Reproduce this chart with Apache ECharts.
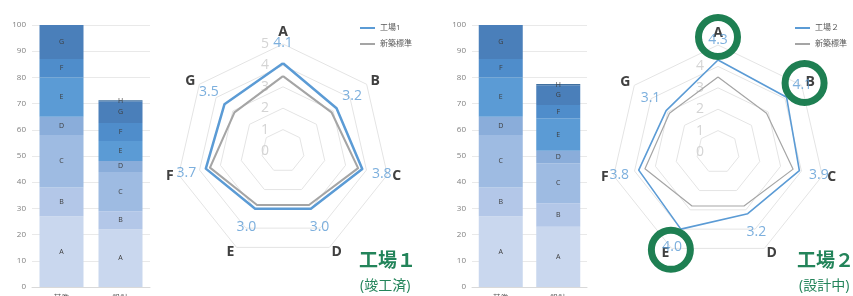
<!DOCTYPE html>
<html><head><meta charset="utf-8">
<script src="https://cdn.jsdelivr.net/npm/echarts@6/dist/echarts.min.js"></script>
<style>html,body{margin:0;padding:0;background:#fff}#c{width:853px;height:296px}</style>
</head><body><div id="c"></div>
<script>
// ---- data ----
const barCategories = ['基準', '設計'];
const segmentNames = ['A', 'B', 'C', 'D', 'E', 'F', 'G', 'H'];
const plant1BaseBar = [27, 11, 20, 7, 15, 7, 13, 0];
const plant1DesignBar = [22, 6.9, 15, 4.2, 7.6, 6.9, 8.3, 0.4];
const plant2BaseBar = [27, 11, 20, 7, 15, 7, 13, 0];
const plant2DesignBar = [23, 9, 15.2, 4.8, 12.4, 5.1, 7.5, 0.5];
const radarAxes = ['A', 'B', 'C', 'D', 'E', 'F', 'G'];
const plant1Scores = [4.1, 3.2, 3.8, 3.0, 3.0, 3.7, 3.5];
const plant2Scores = [4.3, 4.1, 3.9, 3.2, 4.0, 3.8, 3.1];
const standardScores = [3.5, 2.9, 3.6, 2.8, 2.8, 3.5, 2.9];
const plant2Highlights = ['A', 'B', 'E'];
const plant1Name = '工場1';
const plant2Name = '工場２';
const standardName = '新築標準';

// ---- styles ----
const FONT = "'Open Sans','Noto Sans CJK JP',sans-serif";
const segColors = ['#C9D7EE', '#B3C7E8', '#9EBBE2', '#8AADDA', '#5B9BD5', '#4F8DCB', '#4A7FBA', '#41709F'];
const BLUE = '#5B9BD5', GRAY = '#A5A5A5', GREEN = '#1E7F52', TGREEN = '#23845A';
const radarCenters = [[283, 151], [718, 152]];
const RADIUS = 107;

// radar draws indicators counter-clockwise; reorder so A..G go clockwise
const ord = radarAxes.map((_, i) => (radarAxes.length - i) % radarAxes.length);
const reorder = arr => ord.map(i => arr[i]);
const angleOf = i => i * 360 / radarAxes.length;

function makeRadar(ci) {
  return {
    center: radarCenters[ci], radius: RADIUS, startAngle: 90, splitNumber: 5, shape: 'polygon',
    indicator: ord.map((i, k) => {
      const o = { name: radarAxes[i], min: 0, max: 5 };
      if (k === 0) o.axisLabel = { show: true };
      return o;
    }),
    axisName: { color: '#404040', fontSize: 14, fontWeight: 'bold', fontFamily: FONT },
    nameGap: 5,
    splitLine: { lineStyle: { color: '#e4e4e4', width: 1 } },
    splitArea: { show: false },
    axisLine: { show: false },
    axisTick: { show: false },
    axisLabel: { show: false, color: '#d4d4d4', fontSize: 14, margin: 14, fontFamily: FONT }
  };
}

const series = [];
// bars
[[plant1BaseBar, plant1DesignBar], [plant2BaseBar, plant2DesignBar]].forEach((pair, ci) => {
  segmentNames.forEach((seg, k) => {
    series.push({
      type: 'bar', name: seg, stack: 'bars' + ci, xAxisIndex: ci, yAxisIndex: ci,
      barWidth: 44,
      data: [pair[0][k] || null, pair[1][k] || null],
      itemStyle: { color: segColors[k] },
      label: { show: true, position: 'inside', formatter: seg, fontSize: 7, color: '#3d3d3d', fontFamily: FONT },
      silent: true
    });
  });
});
// radars
[[plant1Name, plant1Scores, 2.5], [plant2Name, plant2Scores, 1.6]].forEach((p, ci) => {
  series.push({
    type: 'radar', radarIndex: ci, symbol: 'none',
    data: [
      { name: p[0], value: reorder(p[1]), lineStyle: { color: BLUE, width: p[2] }, itemStyle: { color: BLUE } },
      { name: standardName, value: reorder(standardScores), lineStyle: { color: GRAY, width: p[2] - 0.4 }, itemStyle: { color: GRAY } }
    ]
  });
  // value labels in overlaid polar coord
  series.push({
    type: 'scatter', coordinateSystem: 'polar', polarIndex: ci, symbolSize: 0, silent: true,
    data: p[1].map((v, i) => {
      const a = angleOf(i) * Math.PI / 180, d = 20;
      return { value: [v, angleOf(i)], label: { offset: [Math.sin(a) * d, -Math.cos(a) * d] } };
    }),
    label: { show: true, position: 'inside', formatter: q => q.value[0].toFixed(1), color: BLUE, fontSize: 14, fontFamily: FONT },
    z: 5
  });
});
// highlight circles on plant 2
series.push({
  type: 'scatter', coordinateSystem: 'polar', polarIndex: 1, symbol: 'circle', symbolSize: 39, silent: true,
  data: plant2Highlights.map(n => {
    const i = radarAxes.indexOf(n), a = angleOf(i) * Math.PI / 180, d = 23;
    return { value: [plant2Scores[i], angleOf(i)], symbolOffset: [Math.sin(a) * d, -Math.cos(a) * d] };
  }),
  itemStyle: { color: 'rgba(0,0,0,0)', borderColor: GREEN, borderWidth: 7, opacity: 1 },
  z: 10
});

const xAxisBase = ci => ({
  gridIndex: ci, type: 'category', data: barCategories,
  axisTick: { show: false }, axisLine: { lineStyle: { color: '#d9d9d9' } },
  axisLabel: { fontSize: 8, color: '#595959', margin: 8, fontFamily: FONT }
});
const yAxisBase = ci => ({
  gridIndex: ci, type: 'value', min: 0, max: 100, interval: 10,
  axisLine: { show: false }, axisTick: { show: false },
  axisLabel: { fontSize: 8, color: '#808080', margin: 6, fontFamily: FONT },
  splitLine: { lineStyle: { color: '#e9e9e9' } }
});
const legendBase = (left, names) => ({
  data: names, left: left, top: 19, orient: 'vertical', icon: 'rect', itemWidth: 15, itemHeight: 2,
  itemGap: 8, selectedMode: false, textStyle: { fontSize: 8, color: '#595959', fontFamily: FONT }
});
const titleStyle = { fontSize: 19, fontWeight: 'bold', color: TGREEN, fontFamily: FONT };
const subStyle = { fontSize: 14, fontWeight: 'normal', color: TGREEN, fontFamily: FONT };

const option = {
  animation: false,
  textStyle: { fontFamily: FONT },
  title: [
    { text: '工場１', left: 359, top: 252, padding: 0, textStyle: titleStyle },
    { text: '(竣工済)', left: 360, top: 279, padding: 0, textStyle: subStyle },
    { text: '工場２', left: 797, top: 252, padding: 0, textStyle: titleStyle },
    { text: '(設計中)', left: 799, top: 279, padding: 0, textStyle: subStyle }
  ],
  legend: [legendBase(355, [plant1Name, standardName]), legendBase(790, [plant2Name, standardName])],
  grid: [
    { left: 32, right: 703, top: 25, bottom: 9, containLabel: false, outerBoundsMode: 'none' },
    { left: 472, right: 266, top: 25, bottom: 9, containLabel: false, outerBoundsMode: 'none' }
  ],
  xAxis: [xAxisBase(0), xAxisBase(1)],
  yAxis: [yAxisBase(0), yAxisBase(1)],
  radar: [makeRadar(0), makeRadar(1)],
  polar: radarCenters.map(c => ({ center: c, radius: RADIUS })),
  angleAxis: [0, 1].map(i => ({ polarIndex: i, type: 'value', min: 0, max: 360, startAngle: 90, clockwise: true, show: false })),
  radiusAxis: [0, 1].map(i => ({ polarIndex: i, type: 'value', min: 0, max: 5, show: false })),
  series: series
};
const chart = echarts.init(document.getElementById('c'));
chart.setOption(option);
</script></body></html>
